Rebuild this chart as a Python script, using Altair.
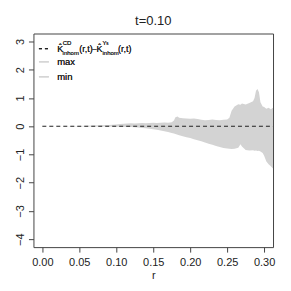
import altair as alt
import pandas as pd

r_vals = [0.000, 0.010, 0.020, 0.030, 0.040, 0.050, 0.060, 0.070, 0.080, 0.090,
          0.100, 0.105, 0.110, 0.115, 0.120, 0.125, 0.130, 0.135, 0.140, 0.145,
          0.150, 0.155, 0.160, 0.165, 0.170, 0.175, 0.178, 0.180, 0.183, 0.185,
          0.190, 0.195, 0.200, 0.205, 0.210, 0.215, 0.220, 0.225, 0.230, 0.235,
          0.240, 0.245, 0.250, 0.253, 0.256, 0.260, 0.265, 0.268, 0.270, 0.275,
          0.280, 0.285, 0.287, 0.289, 0.291, 0.293, 0.295, 0.298, 0.300, 0.303,
          0.306, 0.309, 0.312]
upper = [0.000, 0.000, 0.001, 0.002, 0.004, 0.007, 0.012, 0.020, 0.030, 0.045,
         0.060, 0.075, 0.085, 0.095, 0.100, 0.095, 0.105, 0.110, 0.100, 0.115,
         0.120, 0.110, 0.125, 0.130, 0.120, 0.140, 0.200, 0.320, 0.340, 0.300,
         0.280, 0.270, 0.260, 0.270, 0.250, 0.230, 0.210, 0.220, 0.240, 0.220,
         0.210, 0.230, 0.240, 0.300, 0.550, 0.700, 0.780, 0.760, 0.800, 0.770,
         0.820, 0.880, 1.000, 1.250, 1.320, 1.200, 0.850, 0.700, 0.680, 0.620,
         0.650, 0.600, 0.650]
lower = [0.000, 0.000, -0.001, -0.002, -0.003, -0.005, -0.007, -0.010, -0.012, -0.015,
         -0.018, -0.020, -0.022, -0.025, -0.030, -0.035, -0.045, -0.060, -0.075, -0.095,
         -0.110, -0.130, -0.150, -0.180, -0.210, -0.240, -0.260, -0.280, -0.300, -0.320,
         -0.360, -0.390, -0.420, -0.460, -0.500, -0.530, -0.580, -0.620, -0.660, -0.700,
         -0.740, -0.770, -0.790, -0.800, -0.810, -0.800, -0.760, -0.640, -0.720, -0.840,
         -0.860, -0.850, -0.870, -0.860, -0.880, -0.870, -0.900, -0.950, -1.050, -1.250,
         -1.350, -1.420, -1.500]
obs_r = [0.0, 0.312]
obs_diff = [0.0, 0.0]

x_ticks = [0.00, 0.05, 0.10, 0.15, 0.20, 0.25, 0.30]
y_ticks = [-4, -3, -2, -1, 0, 1, 2, 3]

FONT = "Liberation Sans"
GREY = "#d3d3d3"
INK = "#222222"

band = pd.DataFrame({"r": r_vals, "hi": upper, "lo": lower})
obs = pd.DataFrame({"r": obs_r, "d": obs_diff})

xs = alt.Scale(domain=[-0.012, 0.312], nice=False, zero=False)
ys = alt.Scale(domain=[-4.28, 3.28], nice=False, zero=False)
x_axis = alt.Axis(values=x_ticks, format=".2f", title="r",
                  labelOverlap=False, labelFlush=False)
y_axis = alt.Axis(values=y_ticks, format="d", title=None, labelAngle=270,
                  labelAlign="center", labelBaseline="bottom", labelPadding=3,
                  labelOverlap=False, labelFlush=False)

area = alt.Chart(band).mark_area(color=GREY, opacity=1, clip=True).encode(
    x=alt.X("r:Q", scale=xs, axis=x_axis),
    y=alt.Y("lo:Q", scale=ys, axis=y_axis),
    y2="hi:Q",
)

line = alt.Chart(obs).mark_line(color=INK, strokeDash=[4, 3], strokeWidth=1.1, clip=True).encode(
    x=alt.X("r:Q", scale=xs, axis=x_axis),
    y=alt.Y("d:Q", scale=ys, axis=y_axis),
)

# legend (positions in plot-area pixels)
def seg(x1, x2, y, color, dash=None):
    kw = dict(color=color, strokeWidth=1.2)
    if dash:
        kw["strokeDash"] = dash
    return alt.Chart(obs).mark_rule(**kw).encode(
        x=alt.value(x1), x2=alt.value(x2), y=alt.value(y))

def txt(s, x, y, size=9):
    return alt.Chart(obs).mark_text(text=s, font=FONT, fontSize=size, align="left",
                                    baseline="middle", color=INK, fontWeight="normal").encode(
        x=alt.value(x), y=alt.value(y))

ROW1, SUP, SUB = 15.2, 9.4, 19.4
leg = [
    seg(5.5, 15.5, ROW1, INK, [3, 3]),
    seg(5.5, 15.5, 28.4, GREY),
    seg(5.5, 15.5, 43.4, GREY),
    txt("K\u0302", 23.8, ROW1),
    txt("CD", 29.4, SUP, 6),
    txt("inhom", 29.2, SUB, 6),
    txt("(r,t)", 45.8, ROW1),
    txt("\u2013", 59.0, ROW1, 8),
    txt("K\u0302", 63.2, ROW1),
    txt("Y", 69.2, SUP, 6),
    txt("s", 73.0, SUP + 1.6, 4.5),
    txt("inhom", 69.2, SUB, 6),
    txt("(r,t)", 84.8, ROW1),
    txt("max", 23.8, 28.4, 9.5),
    txt("min", 23.8, 43.4, 9.5),
]

chart = alt.layer(area, line, *leg).properties(
    width=240, height=214,
    title=alt.Title("t=0.10", font=FONT, fontSize=13, fontWeight="normal",
                    color=INK, anchor="middle", offset=6),
    autosize=alt.AutoSizeParams(type="none"),
    padding={"left": 25.5, "top": 25.3, "right": 10, "bottom": 40},
).configure_view(
    stroke="#444444", strokeWidth=1
).configure_axis(
    grid=False, domain=False, tickSize=5, tickColor="#444444",
    labelFont=FONT, labelFontSize=11, labelColor=INK,
    titleFont=FONT, titleFontSize=11, titleFontWeight="normal", titleColor=INK,
    labelPadding=4, titlePadding=2,
)

chart.save("out.html", embed_options={"renderer": "svg", "actions": False})
